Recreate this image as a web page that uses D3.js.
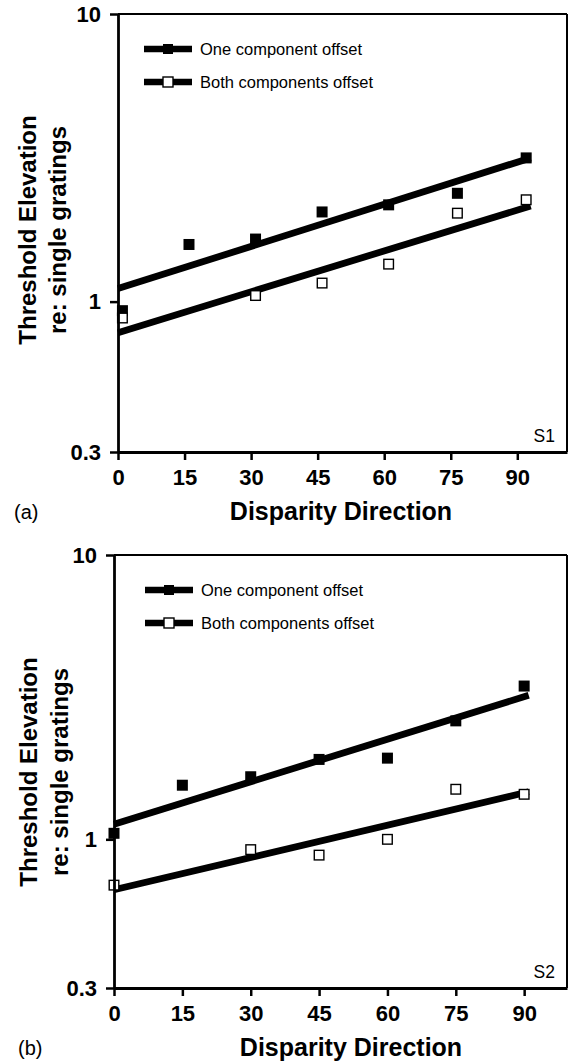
<!DOCTYPE html>
<html>
<head>
<meta charset="utf-8">
<script src="https://cdnjs.cloudflare.com/ajax/libs/d3/7.8.5/d3.min.js"></script>
<style>
  html, body { margin: 0; padding: 0; background: #fff; }
  svg { display: block; }
  text { font-family: "Liberation Sans", Arial, Helvetica, sans-serif; fill: #000; }
</style>
</head>
<body>
<svg id="fig" width="570" height="1062"></svg>
<script>
// Shared axis ticks
const angleTicks = [0, 15, 30, 45, 60, 75, 90];
const elevationTicks = [0.3, 1, 10];
const seriesNames = ["One component offset", "Both components offset"];

// Observer S1: threshold elevation vs disparity direction
const s1AnglesOne = [1, 16, 31, 46, 61, 76.5, 92];
const s1One = [0.93, 1.58, 1.65, 2.05, 2.17, 2.38, 3.16];
const s1AnglesBoth = [1, 31, 46, 61, 76.5, 92];
const s1Both = [0.877, 1.05, 1.16, 1.35, 2.03, 2.26];
const s1FitAngles = [0, 93];
const s1FitOne = [1.11, 3.16];
const s1FitBoth = [0.78, 2.15];

// Observer S2
const s2AnglesOne = [0, 15, 30, 45, 60, 75, 90];
const s2One = [1.05, 1.55, 1.66, 1.91, 1.93, 2.61, 3.46];
const s2AnglesBoth = [0, 30, 45, 60, 75, 90];
const s2Both = [0.69, 0.92, 0.88, 1.0, 1.50, 1.44];
const s2FitAngles = [0, 91];
const s2FitOne = [1.13, 3.21];
const s2FitBoth = [0.665, 1.47];

const svg = d3.select("#fig");

function drawPanel(cfg) {
  const x = d3.scaleLinear().domain(cfg.xDomain).range([cfg.left, cfg.right]);
  const y = d3.scaleLog().domain([0.3, 10]).range([cfg.bottom, cfg.top]);
  const g = svg.append("g");

  // frame: thinner top and right edges
  g.append("line").attr("x1", cfg.left).attr("x2", cfg.right)
    .attr("y1", cfg.top).attr("y2", cfg.top)
    .attr("stroke", "#000").attr("stroke-width", 2);
  g.append("line").attr("x1", cfg.right).attr("x2", cfg.right)
    .attr("y1", cfg.top).attr("y2", cfg.bottom)
    .attr("stroke", "#000").attr("stroke-width", 2);

  // fitted lines
  const fit = (ys) => cfg.fitAngles.map((a, i) => [a, ys[i]]);
  const line = d3.line().x(d => x(d[0])).y(d => y(d[1]));
  [cfg.fitOne, cfg.fitBoth].forEach(ys => {
    g.append("path").datum(fit(ys)).attr("d", line)
      .attr("fill", "none").attr("stroke", "#000").attr("stroke-width", 6.8);
  });

  // data markers
  const sz = 11;
  g.selectAll(".one").data(cfg.anglesOne.map((a, i) => [a, cfg.one[i]]))
    .join("rect")
    .attr("x", d => x(d[0]) - sz / 2).attr("y", d => y(d[1]) - sz / 2)
    .attr("width", sz).attr("height", sz).attr("fill", "#000");
  g.selectAll(".both").data(cfg.anglesBoth.map((a, i) => [a, cfg.both[i]]))
    .join("rect")
    .attr("x", d => x(d[0]) - (sz - 1.4) / 2).attr("y", d => y(d[1]) - (sz - 1.4) / 2)
    .attr("width", sz - 1.4).attr("height", sz - 1.4)
    .attr("fill", "#fff").attr("stroke", "#000").attr("stroke-width", 1.4);

  // axes
  const xAxis = d3.axisBottom(x).tickValues(angleTicks).tickSize(8).tickSizeOuter(0).tickPadding(9);
  const yAxis = d3.axisLeft(y).tickValues(elevationTicks).tickFormat(d => String(d))
    .tickSize(8).tickSizeOuter(0).tickPadding(9);
  const gx = g.append("g").attr("transform", `translate(0,${cfg.bottom})`).call(xAxis);
  const gy = g.append("g").attr("transform", `translate(${cfg.left},0)`).call(yAxis);
  [gx, gy].forEach(ax => {
    ax.select(".domain").attr("stroke-width", 2.8);
    ax.selectAll(".tick line").attr("stroke-width", 2.5);
    ax.selectAll(".tick text").attr("font-size", 22).attr("font-weight", "bold")
      .attr("font-family", "'Liberation Sans', Arial, sans-serif");
  });

  // legend
  const legendRows = [
    { name: seriesNames[0], filled: true, yy: cfg.top + 35 },
    { name: seriesNames[1], filled: false, yy: cfg.top + 68 }
  ];
  legendRows.forEach(r => {
    g.append("line").attr("x1", cfg.legendX).attr("x2", cfg.legendX + 48)
      .attr("y1", r.yy).attr("y2", r.yy)
      .attr("stroke", "#000").attr("stroke-width", 6.5);
    const ms = 10;
    g.append("rect")
      .attr("x", cfg.legendX + 24 - ms / 2).attr("y", r.yy - ms / 2)
      .attr("width", ms).attr("height", ms)
      .attr("fill", r.filled ? "#000" : "#fff")
      .attr("stroke", "#000").attr("stroke-width", r.filled ? 0 : 1.4);
    g.append("text").attr("x", cfg.legendX + 56).attr("y", r.yy + 6)
      .attr("font-size", 16.5).text(r.name);
  });

  // observer tag
  g.append("text").attr("x", cfg.right - 12).attr("y", cfg.bottom - 10)
    .attr("text-anchor", "end").attr("font-size", 17.5).text(cfg.tag);

  // axis titles
  g.append("text").attr("x", cfg.xTitleX).attr("y", cfg.bottom + 68)
    .attr("text-anchor", "middle").attr("font-size", 25).attr("font-weight", "bold")
    .text("Disparity Direction");
  const yc = cfg.yTitleY;
  g.append("text").attr("transform", `translate(${cfg.yTitleCols[0]},${yc}) rotate(-90)`)
    .attr("text-anchor", "middle").attr("font-size", 24).attr("font-weight", "bold")
    .text("Threshold Elevation");
  g.append("text").attr("transform", `translate(${cfg.yTitleCols[1]},${yc}) rotate(-90)`)
    .attr("text-anchor", "middle").attr("font-size", 24).attr("font-weight", "bold")
    .text("re: single gratings");

  // panel letter
  g.append("text").attr("x", cfg.letterX).attr("y", cfg.bottom + 67)
    .attr("font-size", 20).text(cfg.letter);
}

drawPanel({
  left: 118, right: 567, top: 14, bottom: 452, xDomain: [0, 101.2],
  anglesOne: s1AnglesOne, one: s1One, anglesBoth: s1AnglesBoth, both: s1Both,
  fitAngles: s1FitAngles, fitOne: s1FitOne, fitBoth: s1FitBoth,
  legendX: 144, tag: "S1", letter: "(a)", letterX: 14,
  xTitleX: 341, yTitleY: 230, yTitleCols: [36, 66]
});

drawPanel({
  left: 114, right: 567, top: 555, bottom: 988, xDomain: [0, 99.4],
  anglesOne: s2AnglesOne, one: s2One, anglesBoth: s2AnglesBoth, both: s2Both,
  fitAngles: s2FitAngles, fitOne: s2FitOne, fitBoth: s2FitBoth,
  legendX: 145, tag: "S2", letter: "(b)", letterX: 18,
  xTitleX: 351, yTitleY: 772, yTitleCols: [37, 68]
});
</script>
</body>
</html>
